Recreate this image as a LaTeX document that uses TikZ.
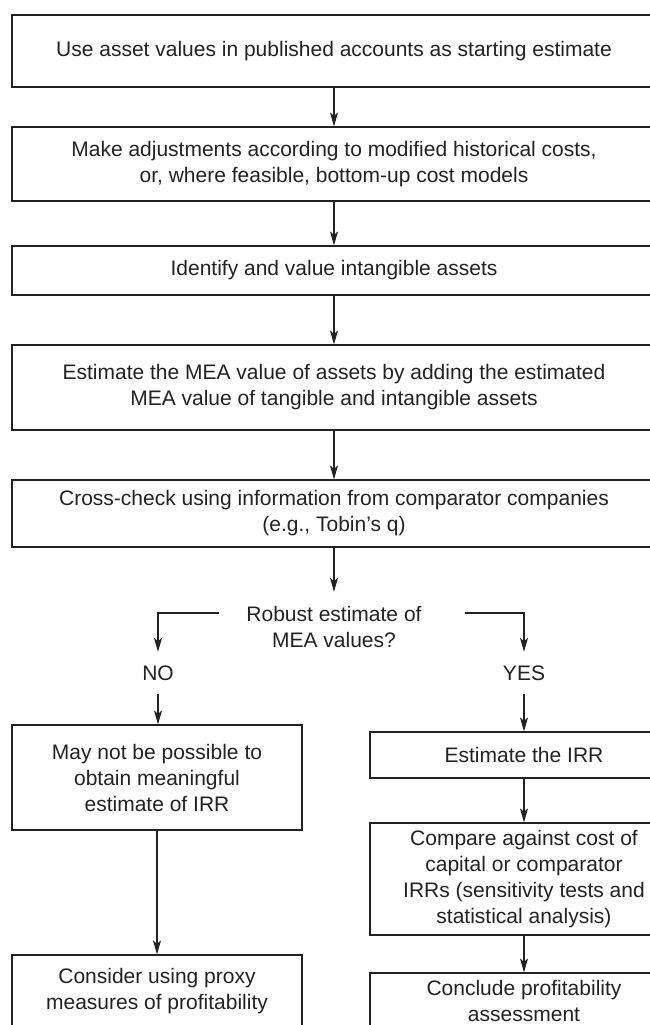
\documentclass[tikz,border=0pt]{standalone}
\usepackage{fontspec}
\setmainfont{Liberation Sans}
\usetikzlibrary{arrows.meta}
\definecolor{ink}{HTML}{222222}
\begin{document}
\begin{tikzpicture}[x=1pt,y=-1pt,
  every node/.style={font=\fontsize{21}{26}\selectfont, text=ink, align=center, inner sep=0pt},
  stepbox/.style={draw=ink, line width=1.2pt, rectangle},
  widebox/.style={stepbox, minimum width=644pt},
  leftbox/.style={stepbox, minimum width=290pt},
  rightbox/.style={stepbox, minimum width=308pt},
  arr/.style={draw=ink, line width=1.2pt, -{Stealth[length=14pt,width=8pt,inset=3.5pt]}},
  lbl/.style={minimum height=42pt}
]
\path[use as bounding box] (0,0) rectangle (650,1025);
\clip (0,0) rectangle (650,1025);

% main column
\node[widebox, minimum height=72pt] (b1) at (334,51)
  {Use asset values in published accounts as starting estimate};
\node[widebox, minimum height=74pt] (b2) at (334,164)
  {Make adjustments according to modified historical costs,\\ or, where feasible, bottom-up cost models};
\node[widebox, minimum height=49pt] (b3) at (334,270.5)
  {Identify and value intangible assets};
\node[widebox, minimum height=85pt] (b4) at (334,387.5)
  {Estimate the MEA value of assets by adding the estimated\\ MEA value of tangible and intangible assets};
\node[widebox, minimum height=67pt] (b5) at (334,513.5)
  {Cross-check using information from comparator companies\\ (e.g., Tobin's q)};

% decision
\node[minimum height=70pt] (dec) at (334,627) {Robust estimate of\\ MEA values?};
\coordinate (decL) at (219,613);
\coordinate (decR) at (465,613);
\node[lbl] (no) at (158,673) {NO};
\node[lbl] (yes) at (524,673) {YES};

% NO branch
\node[leftbox, minimum height=105pt] (l1) at (157,777.5)
  {May not be possible to\\ obtain meaningful\\ estimate of IRR};
\node[leftbox, minimum height=73pt] (l2) at (157,991.5)
  {Consider using proxy\\ measures of profitability};

% YES branch
\node[rightbox, minimum height=46pt] (r1) at (524,755) {Estimate the IRR};
\node[rightbox, minimum height=112pt] (r2) at (524,879)
  {Compare against cost of\\ capital or comparator\\ IRRs (sensitivity tests and\\ statistical analysis)};
\node[rightbox, minimum height=55pt] (r3) at (524,1000.5)
  {Conclude profitability\\ assessment};

% connectors
\draw[arr] (b1) -- (b2);
\draw[arr] (b2) -- (b3);
\draw[arr] (b3) -- (b4);
\draw[arr] (b4) -- (b5);
\draw[arr] (b5) -- (dec);
\draw[arr] (decL) -| (no);
\draw[arr] (decR) -| (yes);
\draw[arr] (no.south) -- (no.south |- l1.north);
\draw[arr] (l1.south) -- (l2.north);
\draw[arr] (yes) -- (r1);
\draw[arr] (r1) -- (r2);
\draw[arr] (r2) -- (r3);
\end{tikzpicture}
\end{document}
